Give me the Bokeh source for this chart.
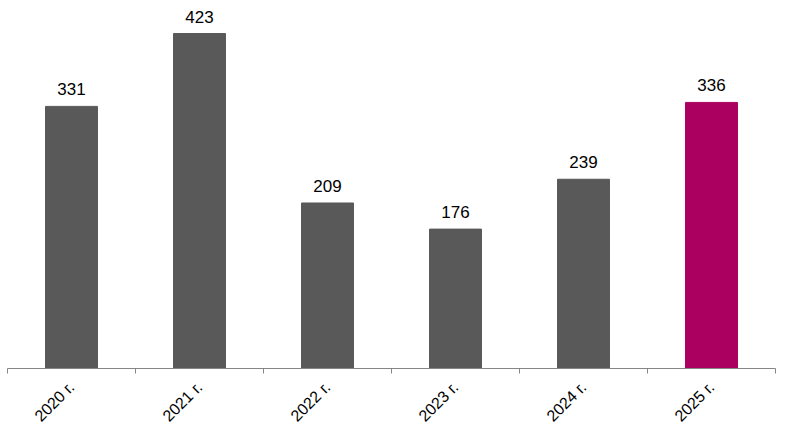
from bokeh.plotting import figure
from bokeh.models import ColumnDataSource, FixedTicker, Range1d
from bokeh.core.properties import value
from bokeh.embed import file_html
from bokeh.resources import INLINE
import math

categories = ["2020 г.", "2021 г.", "2022 г.", "2023 г.", "2024 г.", "2025 г."]
values = [331, 423, 209, 176, 239, 336]
colors = ["#595959", "#595959", "#595959", "#595959", "#595959", "#AC0060"]

centers = [i + 0.5 for i in range(len(categories))]
src = ColumnDataSource(dict(x=centers, top=values, color=colors,
                            label=[str(v) for v in values]))

p = figure(width=780, height=434, output_backend="svg", toolbar_location=None,
           x_range=Range1d(0, len(categories)), y_range=Range1d(0, 454.6),
           min_border_left=7, min_border_right=5, min_border_top=8, min_border_bottom=66)

p.vbar(x="x", top="top", bottom=0, width=0.406, color="color", source=src)
p.text(x="x", y="top", text="label", source=src, text_align="center",
       text_baseline="bottom", y_offset=-11, text_font=value("Liberation Sans"),
       text_font_size="17px", text_color="#000000")

p.yaxis.visible = False
p.xgrid.visible = False
p.ygrid.visible = False
p.outline_line_color = None

ax = p.xaxis[0]
ax.ticker = FixedTicker(ticks=centers, minor_ticks=list(range(len(categories) + 1)))
ax.major_label_overrides = {c: lab for c, lab in zip(centers, categories)}
ax.major_label_orientation = math.pi / 4
ax.major_tick_line_color = None
ax.minor_tick_in = 0
ax.minor_tick_out = 5
ax.minor_tick_line_color = "#868686"
ax.axis_line_color = "#868686"
ax.axis_line_width = 1
ax.major_label_standoff = 10
ax.major_label_text_font = "Liberation Sans"
ax.major_label_text_font_size = "16px"
ax.major_label_text_color = "#000000"

open("out.html", "w").write(file_html(p, INLINE))
